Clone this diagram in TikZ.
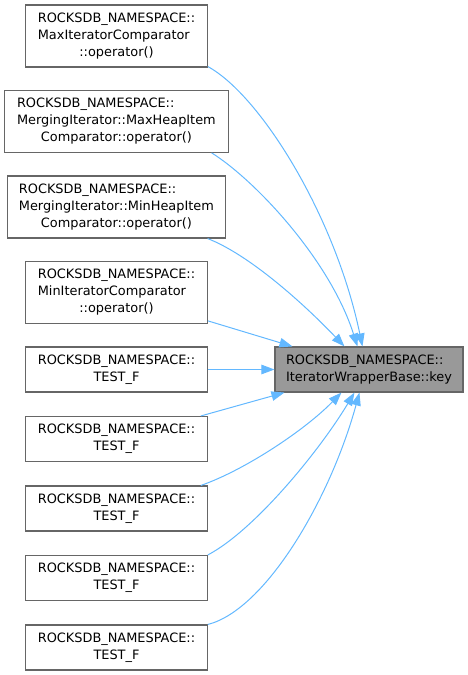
\documentclass[tikz,border=0pt]{standalone}
\usepackage{fontspec}
\setmainfont{DejaVu Sans}
\usetikzlibrary{arrows.meta}
\definecolor{edgeblue}{HTML}{63B8FF}
\definecolor{boxborder}{HTML}{666666}
\definecolor{keyfill}{HTML}{999999}
\newcommand\cl[1]{\multicolumn{1}{@{}c@{}}{#1}}
\begin{document}
\begin{tikzpicture}[x=1pt,y=-1pt,
  box/.style={draw=boxborder, line width=1.1pt, fill=white, inner sep=0pt,
    font=\fontsize{12.9}{16.7}\selectfont, minimum width=181.6pt},
  keybox/.style={box, fill=keyfill, minimum width=188pt, minimum height=45pt},
  tall/.style={minimum height=62pt},
  short/.style={minimum height=45pt},
  edge/.style={draw=edgeblue, line width=1pt, -{Triangle[length=13pt,width=9.5pt]}, color=edgeblue}]
\useasboundingbox (0,0) rectangle (468,675);

\node[box,tall] (b1) at (116.5,36) {\begin{tabular}{@{}l@{}}ROCKSDB\_NAMESPACE::\\MaxIteratorComparator\\\cl{::operator()}\end{tabular}};
\node[box,tall,minimum width=223.3pt] (b2) at (116.4,121.3) {\begin{tabular}{@{}l@{}}ROCKSDB\_NAMESPACE::\\MergingIterator::MaxHeapItem\\\cl{Comparator::operator()}\end{tabular}};
\node[box,tall,minimum width=218.7pt] (b3) at (116.4,207) {\begin{tabular}{@{}l@{}}ROCKSDB\_NAMESPACE::\\MergingIterator::MinHeapItem\\\cl{Comparator::operator()}\end{tabular}};
\node[box,tall] (b4) at (116.5,292.3) {\begin{tabular}{@{}l@{}}ROCKSDB\_NAMESPACE::\\MinIteratorComparator\\\cl{::operator()}\end{tabular}};
\node[box,short] (b5) at (116.5,369.5) {\begin{tabular}{@{}l@{}}ROCKSDB\_NAMESPACE::\\\cl{TEST\_F}\end{tabular}};
\node[box,short] (b6) at (116.5,439) {\begin{tabular}{@{}l@{}}ROCKSDB\_NAMESPACE::\\\cl{TEST\_F}\end{tabular}};
\node[box,short] (b7) at (116.5,508.5) {\begin{tabular}{@{}l@{}}ROCKSDB\_NAMESPACE::\\\cl{TEST\_F}\end{tabular}};
\node[box,short] (b8) at (116.5,578) {\begin{tabular}{@{}l@{}}ROCKSDB\_NAMESPACE::\\\cl{TEST\_F}\end{tabular}};
\node[box,short] (b9) at (116.5,647.5) {\begin{tabular}{@{}l@{}}ROCKSDB\_NAMESPACE::\\\cl{TEST\_F}\end{tabular}};

\node[keybox] (key) at (369,369.5) {\begin{tabular}{@{}l@{}}ROCKSDB\_NAMESPACE::\\\cl{IteratorWrapperBase::key}\end{tabular}};

\draw[edge] ([yshift=1pt]b1.south east) .. controls (260,95) and (335,215) .. ([xshift=88pt]key.north west);
\draw[edge] ([xshift=-17pt]b2.south east) .. controls (255,180) and (330,260) .. ([xshift=83pt]key.north west);
\draw[edge] ([xshift=-18.7pt]b3.south east) .. controls (250,255) and (305,305) .. ([xshift=70pt]key.north west);
\draw[edge] ([yshift=3pt]b4.south east) -- ([xshift=18pt]key.north west);
\draw[edge] (b5.east) -- (key.west);
\draw[edge] ([xshift=-7pt]b6.north east) -- ([xshift=10pt]key.south west);
\draw[edge] ([xshift=-7pt]b7.north east) .. controls (245,470) and (305,430) .. ([xshift=67pt]key.south west);
\draw[edge] (b8.north east) .. controls (255,530) and (320,450) .. ([xshift=80pt]key.south west);
\draw[edge] (b9.north east) .. controls (265,610) and (330,500) .. ([xshift=85pt]key.south west);
\end{tikzpicture}
\end{document}
